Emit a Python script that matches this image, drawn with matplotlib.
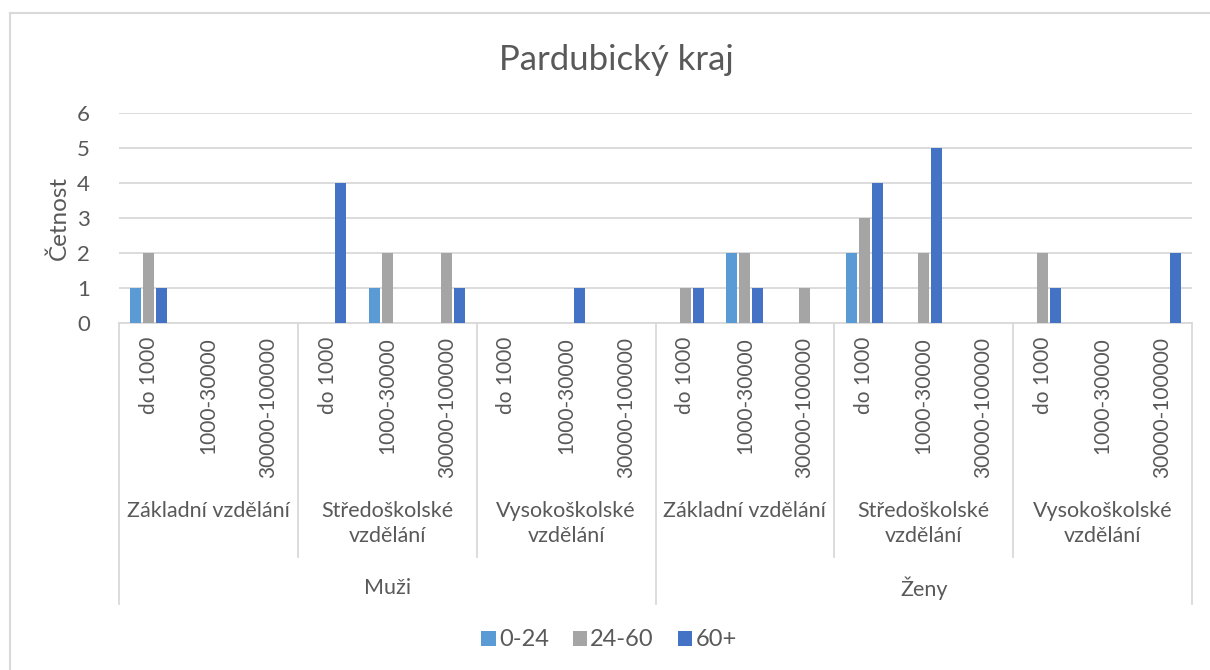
import matplotlib
matplotlib.use("Agg")
from matplotlib import pyplot as plt
from matplotlib.transforms import blended_transform_factory
from matplotlib.lines import Line2D
import numpy as np

genders = ["Muži", "Ženy"]
education = ["Základní vzdělání", "Středoškolské\nvzdělání", "Vysokoškolské\nvzdělání"]
sizes = ["do 1000", "1000-30000", "30000-100000"]
series_names = ["0-24", "24-60", "60+"]
v_0_24 = [1, 0, 0, 0, 1, 0, 0, 0, 0, 0, 2, 0, 2, 0, 0, 0, 0, 0]
v_24_60 = [2, 0, 0, 0, 2, 2, 0, 0, 0, 1, 2, 1, 3, 2, 0, 2, 0, 0]
v_60 = [1, 0, 0, 4, 0, 1, 0, 1, 0, 1, 1, 0, 4, 5, 0, 1, 0, 2]

colors = ["#5B9BD5", "#A5A5A5", "#4472C4"]
text_c = "#595959"
grid_c = "#D9D9D9"
font = ["Lato", "DejaVu Sans"]
plt.rcParams['font.family'] = font

W, H = 1210, 670
fig = plt.figure(figsize=(W / 100, H / 100), dpi=100)


def fy(py):
    return 1 - py / H


x0, x1, y0, y1 = 119, 1192, 323, 113
ax = fig.add_axes([x0 / W, fy(y0), (x1 - x0) / W, (y0 - y1) / H])

n = len(v_0_24)
x = np.arange(n) + 0.5
bw = 0.185
step = 0.218
for k, vals in enumerate([v_0_24, v_24_60, v_60]):
    ax.bar(x + (k - 1) * step, vals, width=bw, color=colors[k],
           label=series_names[k], zorder=3)

ax.set_xlim(0, n)
ax.set_ylim(0, 6)
ax.set_yticks(range(7))
ax.yaxis.grid(True, color=grid_c, linewidth=1.3, zorder=0)
ax.tick_params(axis='y', length=0, pad=21, labelsize=16, labelcolor=text_c)
ax.set_xticks([])
for s in ["top", "right", "left"]:
    ax.spines[s].set_visible(False)
ax.spines["bottom"].set_color(grid_c)
ax.spines["bottom"].set_linewidth(1.3)
ax.set_ylabel("Četnost", fontsize=17.5, color=text_c, labelpad=5)

fig.text(616 / W, fy(60), "Pardubický kraj", ha="center", va="center",
         fontsize=25, color=text_c)

tr = blended_transform_factory(ax.transData, fig.transFigure)

# size labels
for i in range(n):
    ax.text(x[i], fy(337), sizes[i % 3], rotation=90, ha="center", va="top",
            transform=tr, fontsize=15, color=text_c)

# education labels
for j in range(6):
    ax.text(j * 3 + 1.5, fy(501), education[j % 3], ha="center", va="top",
            transform=tr, fontsize=15.5, color=text_c, linespacing=1.3,
            multialignment="center")

# gender labels
for g in range(2):
    ax.text(g * 9 + 4.5, fy(588), genders[g], ha="center", va="center",
            transform=tr, fontsize=15.5, color=text_c)

# separators
for b in range(0, n + 1, 3):
    bottom = 604 if b % 9 == 0 else 557
    fig.add_artist(Line2D([b, b], [fy(y0), fy(bottom)], transform=tr,
                          color=grid_c, linewidth=1.3))

# outer border (left and top)
fig.add_artist(Line2D([10 / W, 10 / W], [fy(13), 0], color=grid_c, linewidth=1.5))
fig.add_artist(Line2D([10 / W, 1], [fy(13), fy(13)], color=grid_c, linewidth=1.5))

fig.legend(loc="center", bbox_to_anchor=(609 / W, fy(640)), ncol=3, frameon=False,
           fontsize=17, handlelength=0.6, handleheight=0.6, handletextpad=0.15,
           columnspacing=1.0, labelcolor=text_c)

fig.savefig("out.png", dpi=100)
